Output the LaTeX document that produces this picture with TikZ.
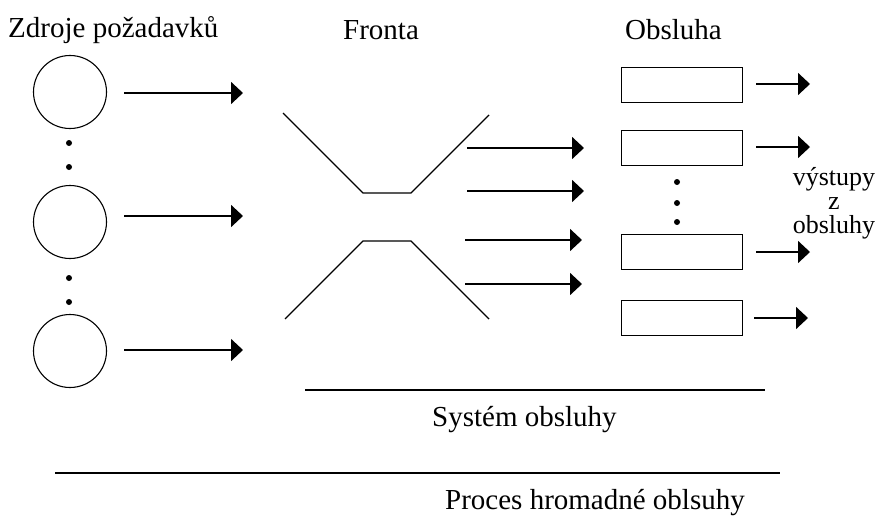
\documentclass[tikz,border=0pt]{standalone}
\usepackage{fontspec}
\setmainfont{Liberation Serif}
\usetikzlibrary{arrows.meta}
\begin{document}
\begin{tikzpicture}[x=1pt,y=-1pt,
  lbl/.style={font=\fontsize{29}{24}\selectfont, inner sep=0pt, anchor=base west},
  src/.style={draw, circle, line width=1.1pt, minimum size=73pt, inner sep=0pt},
  srv/.style={draw, rectangle, line width=1.5pt, minimum width=121pt, minimum height=35pt, inner sep=0pt},
  flow/.style={line width=1.8pt, -{Triangle[length=12pt,width=22pt]}},
  wall/.style={line width=1.4pt},
  rule/.style={line width=1.8pt},
  dotm/.style={fill, circle, inner sep=0pt, minimum size=6pt}]
\useasboundingbox (0,0) rectangle (885,516);
% labels
\node[lbl] (tZ) at (8,38) {Zdroje požadavků};
\node[lbl] (tF) at (343,40) {Fronta};
\node[lbl] (tO) at (625,40) {Obsluha};
\node[lbl] (tS) at (432,426) {Systém obsluhy};
\node[lbl] (tP) at (445,509) {Proces hromadné oblsuhy};
\node[font=\fontsize{26}{24}\selectfont, inner sep=0pt, align=center, anchor=north] (tV) at (834,167) {výstupy\\z\\obsluhy};
% sources
\node[src] (c1) at (70,92) {};
\node[src] (c2) at (70,222) {};
\node[src] (c3) at (70,351) {};
\node[dotm] (d1) at (69,143) {};
\node[dotm] (d2) at (69,167) {};
\node[dotm] (d3) at (69,278) {};
\node[dotm] (d4) at (69,302) {};
\coordinate (a1s) at (124,93); \coordinate (a1e) at (243,93);
\coordinate (a2s) at (124,216); \coordinate (a2e) at (243,216);
\coordinate (a3s) at (124,350); \coordinate (a3e) at (243,350);
\draw[flow] (a1s) -- (a1e);
\draw[flow] (a2s) -- (a2e);
\draw[flow] (a3s) -- (a3e);
% queue funnel
\draw[wall] (283,113) -- (363,193) -- (411,193) -- (489,115);
\draw[wall] (285,319) -- (363,241) -- (411,241) -- (489,319);
\coordinate (q1s) at (467,148); \coordinate (q1e) at (584,148);
\coordinate (q2s) at (467,191); \coordinate (q2e) at (584,191);
\coordinate (q3s) at (465,240); \coordinate (q3e) at (582,240);
\coordinate (q4s) at (465,284); \coordinate (q4e) at (582,284);
\draw[flow] (q1s) -- (q1e);
\draw[flow] (q2s) -- (q2e);
\draw[flow] (q3s) -- (q3e);
\draw[flow] (q4s) -- (q4e);
% servers
\node[srv] (b1) at (682,85) {};
\node[srv] (b2) at (682,148) {};
\node[srv] (b3) at (682,252) {};
\node[srv] (b4) at (682,318) {};
\node[dotm] (e1) at (677,182) {};
\node[dotm] (e2) at (677,203) {};
\node[dotm] (e3) at (677,222) {};
\coordinate (o1s) at (756,84); \coordinate (o1e) at (810,84);
\coordinate (o2s) at (756,147); \coordinate (o2e) at (810,147);
\coordinate (o3s) at (756,252); \coordinate (o3e) at (810,252);
\coordinate (o4s) at (754,318); \coordinate (o4e) at (808,318);
\draw[flow] (o1s) -- (o1e);
\draw[flow] (o2s) -- (o2e);
\draw[flow] (o3s) -- (o3e);
\draw[flow] (o4s) -- (o4e);
% rules
\coordinate (r1s) at (305,390); \coordinate (r1e) at (765,390);
\coordinate (r2s) at (55,473); \coordinate (r2e) at (780,473);
\draw[rule] (r1s) -- (r1e);
\draw[rule] (r2s) -- (r2e);
\end{tikzpicture}
\end{document}
